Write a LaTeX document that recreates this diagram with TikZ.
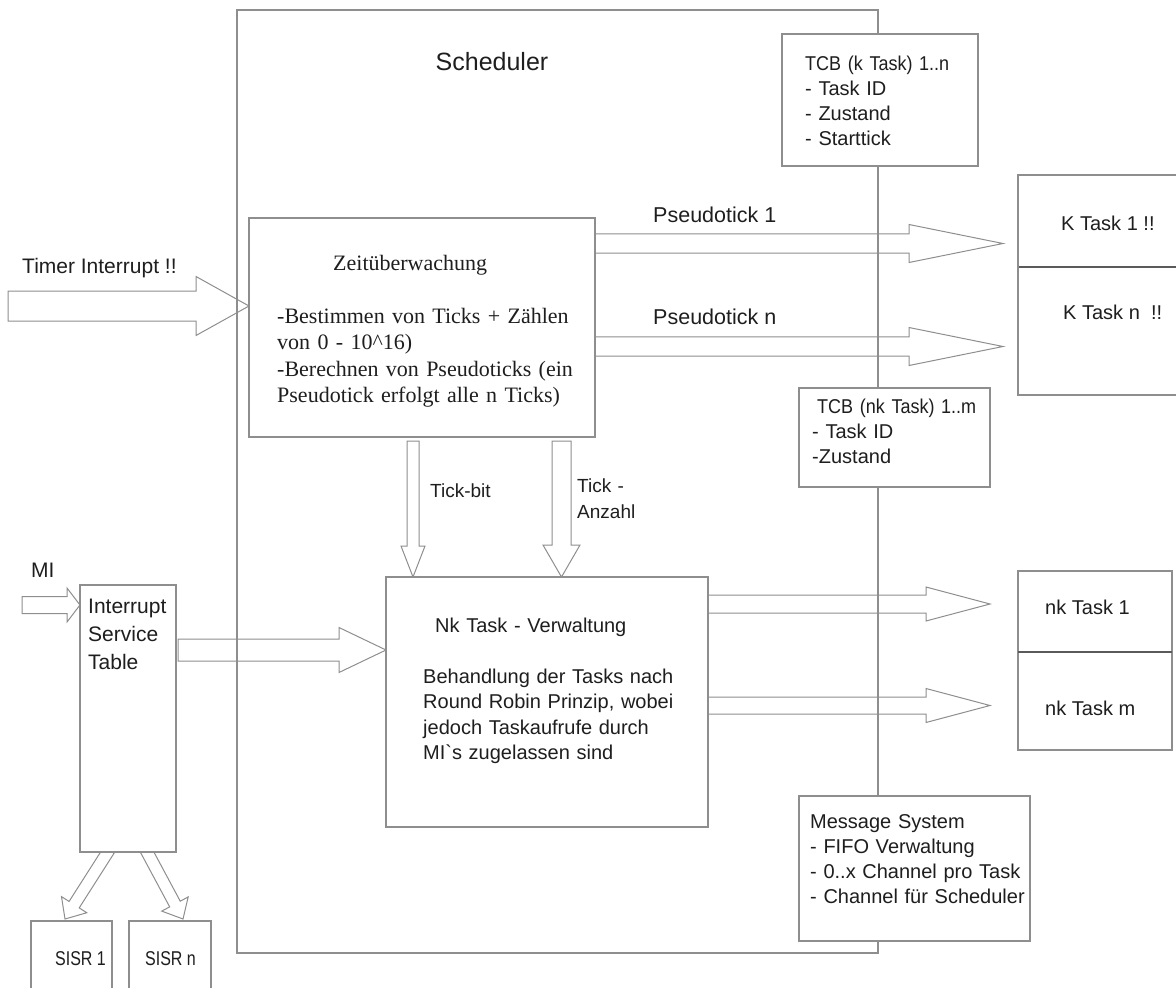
\documentclass[tikz,border=0pt]{standalone}
\usepackage{fontspec}
\setmainfont{Liberation Sans}
\newfontfamily\zeitfont{Liberation Serif}
\newfontfamily\narrowfont[FakeStretch=0.8]{Liberation Sans}
\newfontfamily\tcbfont[FakeStretch=0.9]{Liberation Sans}
\usepackage{xcolor}
\usepackage{tikz}
\usetikzlibrary{positioning, calc, backgrounds}
\definecolor{linegray}{HTML}{8E8E8E}
\definecolor{divgray}{HTML}{5A5A5A}
\definecolor{inkblack}{HTML}{1E1E1E}

% hollow block arrow: start, tip, half shaft, half head, head length
\newcommand{\blockarrow}[5]{%
    \coordinate (bs) at #1;
    \coordinate (bt) at #2;
    \coordinate (bh) at ($(bt)!#5pt!(bs)$);
    \draw[flowline] ($(bs)!#3pt!90:(bt)$) -- ($(bh)!#3pt!90:(bt)$)
        -- ($(bh)!#4pt!90:(bt)$) -- (bt) -- ($(bh)!#4pt!-90:(bt)$)
        -- ($(bh)!#3pt!-90:(bt)$) -- ($(bs)!#3pt!-90:(bt)$) -- cycle;}

\begin{document}
\begin{tikzpicture}[x=1pt, y=-1pt,
    box/.style={draw=linegray, line width=1.1pt, fill=white, anchor=north west,
                inner sep=0pt, outer sep=0pt},
    txt/.style={anchor=base west, inner sep=0pt, text=inkblack, align=left},
    boxtext/.style={txt, font=\fontsize{20}{25}\selectfont},
    flowline/.style={draw=linegray, line width=1pt, line join=miter}]
    \useasboundingbox (0,0) rectangle (1176,988);
    \clip (0,0) rectangle (1176,988);

    \node[box, fill=none, minimum width=641pt, minimum height=943pt] (sched) at (237,10) {};
    \node[txt, anchor=base, font=\fontsize{25}{30}\selectfont] (schedlbl)
        at ([shift={(255,60)}]sched.north west) {Scheduler};

    \node[box, minimum width=196pt, minimum height=132pt] (tcbk) at (782,34) {};
    \node[boxtext, text width=185pt] (tcbktxt) at ([shift={(23,36)}]tcbk.north west)
        {{\tcbfont TCB (k Task) 1..n}\\- Task ID\\- Zustand\\- Starttick};

    \node[box, minimum width=191pt, minimum height=99pt] (tcbnk) at (799,388) {};
    \node[boxtext, text width=210pt] (tcbnktxt) at ([shift={(13,25)}]tcbnk.north west)
        {\hspace*{5pt}{\tcbfont TCB (nk Task) 1..m}\\- Task ID\\-Zustand};

    \node[box, minimum width=231pt, minimum height=145pt] (msg) at (799,796) {};
    \node[boxtext, text width=240pt] (msgtxt) at ([shift={(11,32)}]msg.north west)
        {Message System\\- FIFO Verwaltung\\- 0..x Channel pro Task\\- Channel für Scheduler};

    \node[box, minimum width=346pt, minimum height=219pt] (zeit) at (249,218) {};
    \node[txt, text width=330pt, font=\zeitfont\fontsize{22}{26.5}\selectfont] (zeittxt)
        at ([shift={(28,52)}]zeit.north west)
        {\hspace*{56pt}Zeitüberwachung\\[26.5pt]
         -Bestimmen von Ticks + Zählen\\
         von 0 - 10\textasciicircum 16)\\
         -Berechnen von Pseudoticks (ein\\
         Pseudotick erfolgt alle n Ticks)};

    \node[box, minimum width=322pt, minimum height=250pt] (nkv) at (386,577) {};
    \node[txt, text width=300pt, font=\fontsize{20}{25.5}\selectfont] (nkvtxt)
        at ([shift={(37,55)}]nkv.north west)
        {\hspace*{12pt}Nk Task - Verwaltung\\[25.5pt]
         Behandlung der Tasks nach\\
         Round Robin Prinzip, wobei\\
         jedoch Taskaufrufe durch\\
         MI\textasciigrave s zugelassen sind};

    \node[box, minimum width=96pt, minimum height=267pt] (ist) at (80,585) {};
    \node[txt, text width=100pt, font=\fontsize{21}{28}\selectfont] (isttxt)
        at ([shift={(8,28)}]ist.north west) {Interrupt\\Service\\Table};

    \node[box, minimum width=162pt, minimum height=92pt] (ktask1) at (1018,175) {};
    \node[box, anchor=north, draw=divgray, minimum width=162pt, minimum height=128pt,
          below=0pt of ktask1] (ktaskn) {};
    \draw[draw=linegray, line width=1.1pt] (ktask1.north west) |- (ktaskn.south east);
    \node[boxtext] (k1txt) at ([shift={(43,55)}]ktask1.north west) {K Task 1 !!};
    \node[boxtext] (kntxt) at ([shift={(45,52)}]ktaskn.north west) {K Task n~~!!};

    \node[box, minimum width=154pt, minimum height=81pt] (nktask1) at (1018,571) {};
    \node[box, minimum width=154pt, minimum height=98pt, anchor=north,
          below=0pt of nktask1] (nktaskm) {};
    \draw[divgray, line width=1.1pt] (nktask1.south west) -- (nktask1.south east);
    \node[boxtext] (nk1txt) at ([shift={(27,43)}]nktask1.north west) {nk Task 1};
    \node[boxtext] (nkmtxt) at ([shift={(27,63)}]nktaskm.north west) {nk Task m};

    \node[box, minimum width=81pt, minimum height=80pt] (sisr1) at (31,921) {};
    \node[box, minimum width=82pt, minimum height=80pt, right=17pt of sisr1] (sisrn) {};
    \node[txt, font=\narrowfont\fontsize{20}{25}\selectfont] (s1txt)
        at ([shift={(24,44)}]sisr1.north west) {SISR 1};
    \node[txt, font=\narrowfont\fontsize{20}{25}\selectfont] (sntxt)
        at ([shift={(16,44)}]sisrn.north west) {SISR n};

    \coordinate (timerin) at (8,306);
    \coordinate (miin) at (22,605);
    \node[txt, font=\fontsize{21}{25}\selectfont] (timerlbl)
        at ([shift={(14,-33)}]timerin) {Timer Interrupt !!};
    \node[txt, font=\fontsize{21}{25}\selectfont] (milbl)
        at ([shift={(9,-28)}]miin) {MI};
    \node[txt, font=\fontsize{21.5}{25}\selectfont] (ps1lbl)
        at ([shift={(58,4)}]zeit.north east) {Pseudotick 1};
    \node[txt, font=\fontsize{21.5}{25}\selectfont] (psnlbl)
        at ([shift={(58,106)}]zeit.north east) {Pseudotick n};
    \node[txt, font=\fontsize{19}{26}\selectfont] (tickbitlbl)
        at ([shift={(181,60)}]zeit.south west) {Tick-bit};
    \node[txt, text width=70pt, font=\fontsize{19}{26}\selectfont] (tickanzlbl)
        at ([shift={(-18,55)}]zeit.south east) {Tick -\\Anzahl};

    \begin{scope}[on background layer]
        \blockarrow{(timerin)}{(timerin -| zeit.west)}{15}{29.5}{53}
        \blockarrow{(zeit.east |- 0,243.5)}{($(ktask1.west |- 0,243.5)+(-15,0)$)}{9.7}{19}{94}
        \blockarrow{(zeit.east |- 0,346.5)}{($(ktask1.west |- 0,346.5)+(-15,0)$)}{9.7}{19}{94}
        \blockarrow{($(zeit.south -| 413,0)+(0,4)$)}{(nkv.north -| 413,0)}{6}{12}{31}
        \blockarrow{($(zeit.south -| 561.5,0)+(0,4)$)}{(nkv.north -| 561.5,0)}{9.5}{18.5}{32}
        \blockarrow{(miin)}{(miin -| ist.west)}{8.5}{17}{13}
        \blockarrow{($(ist.east |- 0,650)+(2,0)$)}{(nkv.west |- 0,650)}{11}{22.5}{47}
        \blockarrow{(nkv.east |- 0,604)}{($(nktask1.west |- 0,604)+(-28,0)$)}{9}{17}{64}
        \blockarrow{(nkv.east |- 0,705.5)}{($(nktask1.west |- 0,705.5)+(-28,0)$)}{8.5}{17}{64}
        \blockarrow{($(ist.south west)+(29,-2)$)}{($(sisr1.north west)+(34,-2)$)}{6}{15}{17}
        \blockarrow{($(ist.south west)+(66,-2)$)}{($(sisrn.north west)+(54,-2)$)}{6}{15}{17}
    \end{scope}
\end{tikzpicture}
\end{document}
